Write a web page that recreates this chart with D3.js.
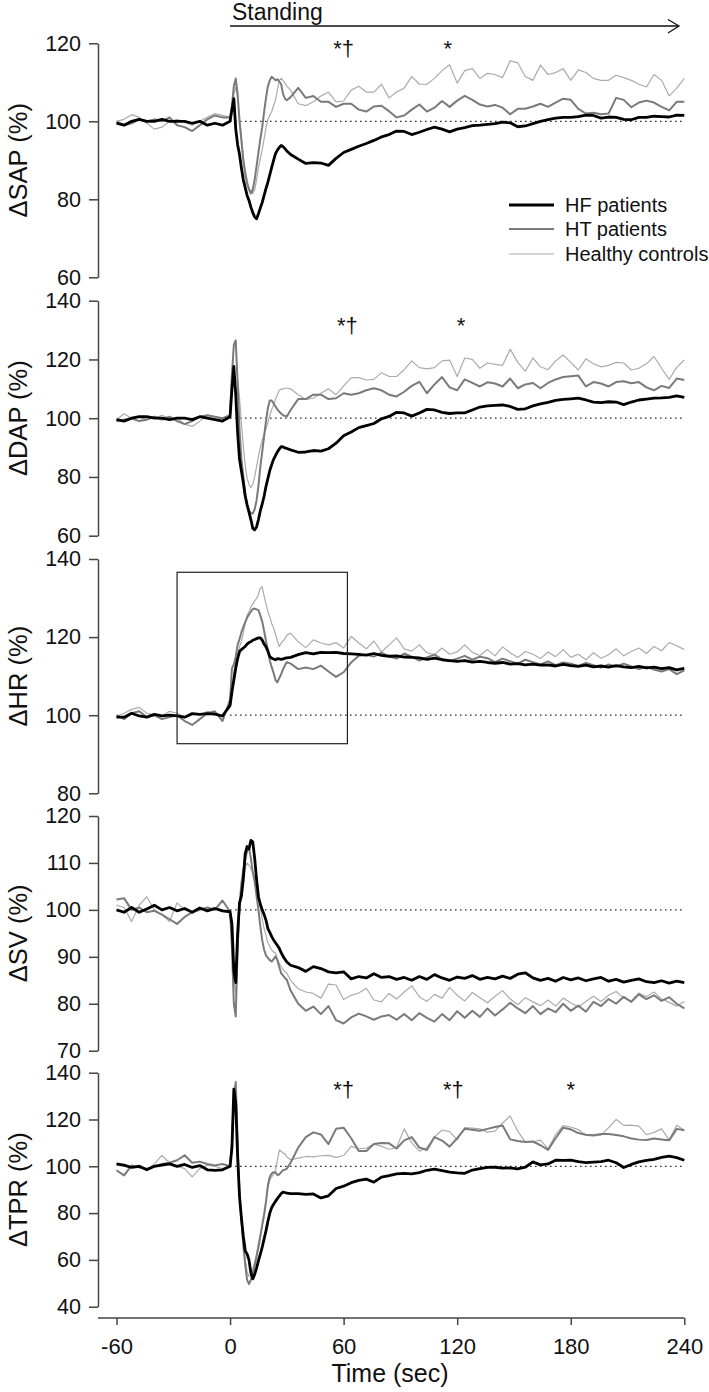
<!DOCTYPE html>
<html>
<head>
<meta charset="utf-8">
<script src="https://cdn.jsdelivr.net/npm/d3@7"></script>
<style>
  html, body { margin: 0; padding: 0; background: #fff; }
  svg text { font-family: "Liberation Sans", Arial, sans-serif; fill: #111; }
</style>
</head>
<body>
<script>
// ---------- DATA ----------
const time = [-60,-56,-52,-48,-44,-40,-36,-32,-28,-24,-20,-16,-12,-8,-4,
  0,1,2,3,4,5,6,7,8,9,10,11,12,13,14,15,16,17,18,19,20,21,22,23,24,25,26,27,28,29,30,
  32,36,40,44,48,52,56,60,64,68,72,76,80,84,88,92,96,100,104,108,112,116,120,124,128,
  132,136,140,144,148,152,156,160,164,168,172,176,180,184,188,192,196,200,204,208,212,216,220,224,228,232,236,240];

const seriesNames = ["HF patients", "HT patients", "Healthy controls"];
const xTicks = [-60, 0, 60, 120, 180, 240];

// Systolic arterial pressure
const sapHF = [99.5,99,100,100.5,100,100,100.5,100,100,100,99.5,100,99,99.5,99,
  100,103,105.8,98,94,91.5,88,85,83,81, 79.7,78,76.6,75.5,75,76.3,77.8,79.2,81,82.8, 84.4,86.3,88.2,90,91.7,92.6,93.3,93.8,93.5,93,92.4,
  91.5,90.3,89.2,89.4,89.3,88.7,90.5,92, 92.8,93.6,94.3,95.1,96,96.6,97.5,97.4,96.6, 97.2,97.9,98.5,98,97.3,98,98.4,98.9,
  99,99.2,99.4,99.8,99.6,98.6,98.8,99.4, 100,100.4,100.8,101,101,101.2,101.6,101.5, 100.8,101.1,101,100.5,100.4,101,101,101.3, 101.2,101.1,101.6,101.5];
const sapHT = [100,99,99.5,100.5,100,100.5,100,101,99,98.5,97.5,99,100.5,101.5,101,
  101,104,109,111,107,100,95,90,86.5,84, 82.5,81.5,82.5,85,88.5,92,95.5,98.5,102.5,106, 109,110.5,111.4,111,110.5,110.8,110.2,109.5,107,105.8,105.4,
  106.2,108.6,106,106.5,105,105,103.7,104.5, 104.5,103,102.5,103.8,104,102.6,101,101.5,103, 104.3,102.5,103.5,105.2,103.7,105.3,106.5,105.5,
  104.3,103.8,104.2,103.5,101.8,103.2,103.2,103.8, 104.5,103.7,104.8,105.8,105.5,103.2,102,102.2, 101.8,102,106,105.5,103.6,104.8,105.3,104.8, 103.7,102.8,105,105];
const sapHC = [100,100.5,101.7,101,99.5,98,98.5,100,100.5,99.8,99,100,101,102,101.5,
  101,103,107,108.8,106,101,96,91,87.5,85, 83,82,81.5,82.5,85,88,90.5,92.8,95.5,98.5, 100.5,101.5,102.5,104,105.4,108,110.5,111,110.5,109.8,109,
  108,104.5,104,105,106.5,107.5,105,105.2, 108,109,107.5,107.5,109.5,106,107.5,108.5,111.5, 109.5,109.5,111,113,114.5,109.8,113,113.5,
  111,112.3,112,111.2,115.5,115,111.5,110.5, 114.4,112,112.5,113.5,110.5,113.2,112.5,111, 110.5,110.5,111.8,111.2,110.5,109.5,108.8,112, 110.5,106.5,108.5,111];

// Diastolic arterial pressure
const dapHF = [99.5,99,100,100.5,100.5,100,100,99.5,100,100,99.5,100.5,100,99.5,99,
  100.5,110,117.6,108,95,86,82,78,73.5,70.5, 68,65.5,62.5,62,63,65.5,68.5,70.8,73.5,76.8, 79.5,82.2,84.2,86,87.3,88.5,89.5,90.3,90.2,89.9,89.7,
  89.2,88.4,88.5,89,88.8,89.6,91.5,94, 95.3,96.8,97.5,98.2,99.8,100.6,102,101.8,100.7, 101.8,103,102.8,102,101.6,101.8,101.8,102.8,
  103.8,104.2,104.4,104.5,104,103,103.2,104.2, 104.9,105.4,106.1,106.4,106.6,106.8,106.2,105.5, 105.3,105.6,105.5,104.6,105.5,106.2,106.5,106.8, 106.9,107.1,107.6,107.1];
const dapHT = [99,99.5,100,99,99.5,100.5,99.5,100.5,99,98,99,100.5,101,100.5,100,
  101,115,125,126.5,112,96,86,80.2,74.5,70.5, 68.5,67.7,67.5,69,72,77,83.5,88.5,94,99, 103.5,106,106,105,104,103,102.2,101.6,101,100.8,100.6,
  102.8,106.5,106.5,108,108,106.5,106.8,108.5, 108,108.5,109.5,110.2,109.5,108,107.4,109,111, 112.4,108.5,111.5,114,110.5,109.5,113.2,112,
  110.8,112.2,111.8,110.8,113.5,110.2,111.5,112, 110.2,112,113.2,114,114.3,114.5,110.8,112.3, 111.8,110.8,112.3,112.6,111.9,112.3,110.5,109.5, 111,110.3,113.5,113];
const dapHC = [99.5,101.5,100,99,100.5,100,101,100,100,98,97.2,99,101,100.5,99.5,
  101,110,114,113,113,107,98,90.4,84,79.5, 77.5,76.3,77.5,80,83.5,87,90,92.5,94.5,96.5, 98.5,101,103,104.5,106.5,108,109.5,109.8,110,110.2,110.2,
  110,108,106.4,106.8,108.5,110,108,111, 113.8,113.8,113,113.2,115.5,114.2,114.2,116.5,119.5, 117.2,116.8,117.2,119.5,119.8,114.2,120.5,120,
  117,118.8,118.3,118,123.5,119,116,120.5, 117.5,116.5,119.5,121.5,119,116.4,120.2,118.5, 117.5,118,119,118.8,116.4,117,118.5,121, 117,113.2,117.3,119.8];

// Heart rate
const hrHF = [99.5,99.5,100.5,99.8,99.5,100.2,99.8,100,99.8,99.5,100.4,100.2,100.4,100.3,99.8,
  102.5,106,109,112,114.5,116.3,116.8,117.2,117.6,118.2, 118.6,118.8,119.2,119.4,119.6,119.8,119.8,119.2,118.2,117.5, 116.4,115,114.6,114.4,114.2,114.5,114.4,114.3,114.4,114.6,114.7,
  114.8,115.5,116,115.7,116.1,116,116.1,115.8, 115.7,115.6,115.4,115.8,115.3,115.1,115.2,114.9,114.8, 114.7,114.3,114.6,114.2,114,113.8,114,113.6,
  113.8,113.5,113.3,113.5,113.1,113.2,112.9,113.1, 112.8,112.9,112.6,113,112.7,112.5,112.8,112.4, 112.6,112.3,112.7,112.4,112.2,112.5,112.1,112.3, 111.9,112.2,111.6,112];
const hrHT = [100,99,100.5,101,99.5,100,99,99.5,100,98.5,97.5,99,100.5,101,98.5,
  104,112,113,115,118,119.5,121.2,122.6,123.8,125, 125.8,126.5,127.2,127.3,127.1,126.9,125.5,124,121.5,119, 116.5,114,112.3,110.8,109,108.4,109.5,110.5,111.8,112.8,113.6,
  113.2,111.8,112.2,111.8,112.7,111.2,109.8,111, 113.5,115.2,115.5,115,116,115,114.5,115.8,115, 114,114.8,115.5,114.3,113.8,114.5,115.2,114.2,
  115,114.6,113.6,114.5,113.8,113.2,114.2,113.6, 113,113.8,112.8,113.5,113.2,112.6,113.4,112.8, 112.2,113,112.4,113.2,112.5,111.8,112.4,111.7, 111.2,111.8,110.5,111.5];
const hrHC = [99.8,100.5,101.5,102,100.5,100,99.8,101,100.5,99.5,100.5,100,101,100.5,100,
  102,106,111,114,115.5,117.5,119,121,123.5,125.5, 126.5,127.7,128.5,129.3,129.9,131,132.5,132.9,130.5,128.5, 126.5,125.1,123.5,122.3,120.8,119,117.6,118.5,119,119.6,120.5,
  121,118.8,117.3,119.3,118.5,118,118.6,117.2, 120.2,118.5,117,119,116.2,118,119.8,117,116.4, 118,116,115.5,117.2,115.6,116.2,118,116.1,
  115.3,116.8,115.2,117.5,116,114.8,116.3,115.6, 114.5,116.2,115,116.8,114.8,115.6,114.2,116, 114.6,115.5,117,115.2,116.3,117.2,115.8,117.6, 116.5,118.6,117.8,116.8];

// Stroke volume
const svHF = [100,99.5,100.5,99.5,100.2,101,100,100.5,99.8,100.3,99.5,100.4,99.8,100.3,99.8,
  99.6,97,87,84.5,95,101.5,103,106.5,112,113.5, 113,114.8,114.5,111,106.5,102.8,101.2,100,99,97.8, 96,95.2,94.3,93.6,93,92.4,91.8,90.9,90.1,89.5,88.9,
  88.2,87.7,86.9,87.9,87.5,86.8,86.6,86.8, 85.3,85.8,85.5,86.4,85.6,85.8,85.2,85.6,85, 85.8,85.2,86.2,85.5,85,85.7,85.4,86,
  85.2,85.6,85.3,85.9,85.4,86.3,86.6,85.5, 85,85.4,84.8,85.6,85.1,85.5,84.9,85.3, 85.6,84.8,85.2,84.6,85,85.3,84.7,84.5, 84.9,84.4,84.8,84.5];
const svHT = [102.2,102.5,100,100.5,99.5,99.8,99,98,97,98.5,99.5,100,100.5,100,102,
  99.6,92,80,77.3,92,101,105.7,108.5,110.8,112.5, 113.2,111,108,106,103,100,96.5,93.5,91.5,90.3, 89.8,89.3,89,89.5,90.1,89.3,87.8,86.5,86,85.5,85.1,
  82.8,80,78.5,79.4,77.8,79.5,76.5,75.8, 77.1,77.9,77.3,76.6,77.3,77.6,76.6,77.8,76.5, 78,77,76.2,77.8,76.5,78.4,77,78.5,
  77.2,79,77.5,78.8,80.2,79,78,79.5, 77.8,79,78.2,80,78.5,79.6,78.3,80.4, 79.5,81,80,81.5,80.4,82,81,81.8, 80.6,81.4,80,79];
const svHC = [101,100.5,97.5,101,102.8,100,99,97.5,101.5,100,99.5,100.5,100,100.5,100,
  99.5,95,85,82,90,99,103.5,106.5,109,110, 109.5,108.8,108,107,106.4,103.5,100.5,98,96,94.5, 93,92.2,91.5,91,90.8,89.5,88.6,87.9,87.3,86.8,86.5,
  85,83.2,82.5,82.2,81.2,84.2,84,80.9, 81.8,82.3,83.3,80.8,80.4,82.2,81,82.5,83.8, 81.5,80.5,82,81.2,83.5,81.8,80.6,82.4,
  81.3,80.2,81.6,82.8,81,79.8,81.3,80.4, 79.6,80.8,79.5,81.2,80.2,79.3,80.5,81.6, 80.5,81.8,82.6,81.2,80.6,82.3,81.5,82.5, 81,80.3,79.5,80.5];

// Total peripheral resistance
const tprHF = [101,100.5,99.5,100,98.5,100,100.5,101,100,100.8,99.5,100.3,98.5,98.3,98.5,
  100,108,133,127,104,87,78,70,64,62.5, 60,54.5,51.9,53.8,56.5,59.7,62.5,65.5,69,72.5, 76.5,80,82.4,83.8,85,86.2,87.3,88.3,89,88.8,88.5,
  88.3,88.3,88,88.2,86.5,87.4,90.5,91.5, 93,94,94.5,93.2,95.4,96,96.8,97,96.8, 97.3,98.3,98.8,98.2,97.5,97.2,97,98.4,
  99,99.5,99.6,99.2,99.3,98.9,99.6,101.9, 100.6,101,102.6,102.5,102.6,102,101.6,101.8, 102,102.6,101.5,99.5,100.8,101.9,102.5,103, 103.8,104.3,103.7,102.6];
const tprHT = [98.3,96.1,100.4,99.5,99,100,101,101.5,102.6,104.7,101.5,102,101,100.4,101,
  100,110,130,136,110,88,77,66,58,51.5, 49.7,51.5,54.5,57.5,61.5,65.4,70,75,79.5,85, 92,95.5,96.9,97.5,97.4,96.3,96.5,97.5,98.3,98.6,99,
  101.5,108,112.5,114.5,113.6,109.5,116,116.5, 112,106.5,106.5,109.5,110,109.8,107.6,111.1,112.5, 108,107,112.5,111,108.4,112,116,115.6,
  115.2,116,116.8,117.4,111.5,110.8,110.4,110.6, 109,107,112,116.5,115.8,114.2,113.5,113.3, 113.8,113.8,113.4,112.8,111.9,111.4,111.2,111.9, 111.5,111.1,116,115.4];
const tprHC = [100.5,100,99.5,100.5,98.5,101,104.7,101.5,100,99,95.5,99,100.5,100,99,
  100,108,126,133,108,88,77,68,60,55, 53,53.5,56,59,62.5,67,71,74.5,78.5,85, 91,94,95.5,96.5,98,102.5,106.9,106.5,105.6,105.4,104,
  102.8,103.5,104.2,104,104.5,104.7,103.8,104.6, 108.5,107.5,107.8,109.5,108.5,107.3,108,116,110, 106.5,108,112.5,115.5,114.8,111.3,116.5,116.3,
  116,114.6,115,118.5,121.5,115,110.3,110.5, 111.2,107.5,113.5,117.4,116.8,115.7,113.2,113, 113.3,116.5,120,117.5,117.6,117.2,113.5,114.5, 116,111.3,117.5,115.4];

const panelLabels = ["\u0394SAP (%)", "\u0394DAP (%)", "\u0394HR (%)", "\u0394SV (%)", "\u0394TPR (%)"];
const panelDomains = [[60,120],[60,140],[80,140],[70,120],[40,140]];
const panelTicks = [[60,80,100,120],[60,80,100,120,140],[80,100,120,140],[70,80,90,100,110,120],[40,60,80,100,120,140]];
const panelSeries = [[sapHF,sapHT,sapHC],[dapHF,dapHT,dapHC],[hrHF,hrHT,hrHC],[svHF,svHT,svHC],[tprHF,tprHT,tprHC]];

// significance marks: panel index, time, text
const sigPanel = [0, 0, 1, 1, 4, 4, 4];
const sigTime  = [60, 115, 62, 122, 60, 118, 180];
const sigText  = ["*\u2020", "*", "*\u2020", "*", "*\u2020", "*\u2020", "*"];

// inset box on HR panel (time range, value range)
const boxTime = [-28, 62];
const boxValue = [92.7, 136.6];

// ---------- LAYOUT ----------
const W = 709, H = 1392;
const tops = [43.3, 300.7, 559, 816, 1072.7];
const bots = [277.3, 535.7, 793.3, 1050.7, 1306.7];
const axisXpos = 98, xAxisY = 1318;
const colors = ["#000000", "#7a7a7a", "#ababab"];
const widths = [2.8, 2.0, 1.2];
const FONT = "Liberation Sans, Arial, sans-serif";

const svg = d3.select("body").append("svg").attr("width", W).attr("height", H);
const x = d3.scaleLinear().domain([-60, 240]).range([116.5, 684.3]);

panelLabels.forEach((lab, p) => {
  const y = d3.scaleLinear().domain(panelDomains[p]).range([bots[p], tops[p]]);
  const g = svg.append("g");

  // y axis
  const ax = g.append("g").attr("transform", `translate(${axisXpos},0)`)
    .call(d3.axisLeft(y).tickValues(panelTicks[p]).tickSize(9).tickSizeOuter(0).tickPadding(8).tickFormat(d => String(d)));
  ax.select(".domain").attr("stroke", "#444").attr("stroke-width", 1.5);
  ax.selectAll(".tick line").attr("stroke", "#444").attr("stroke-width", 1.5);
  ax.selectAll(".tick text").attr("font-size", 21.5).attr("font-family", FONT).attr("fill", "#111");

  // y label
  g.append("text")
    .attr("transform", `translate(27,${(tops[p] + bots[p]) / 2}) rotate(-90)`)
    .attr("text-anchor", "middle").attr("font-size", 25.5).text(lab);

  // reference dotted line at 100
  g.append("line").attr("x1", x(0)).attr("x2", x(240)).attr("y1", y(100)).attr("y2", y(100))
    .attr("stroke", "#222").attr("stroke-width", 1.2).attr("stroke-dasharray", "1.5,3.5");

  // series (draw light first)
  const line = d3.line().x((d, i) => x(time[i])).y(d => y(d));
  [2, 1, 0].forEach(s => {
    g.append("path").datum(panelSeries[p][s]).attr("d", line)
      .attr("fill", "none").attr("stroke", colors[s]).attr("stroke-width", widths[s])
      .attr("stroke-linejoin", "round");
  });

  // significance marks
  sigPanel.forEach((sp, k) => {
    if (sp !== p) return;
    g.append("text").attr("x", x(sigTime[k])).attr("y", tops[p] + (p === 1 ? 32 : (p === 4 ? 24 : 13)))
      .attr("text-anchor", "middle").attr("font-size", 22).text(sigText[k]);
  });

  if (p === 2) {
    g.append("rect").attr("x", x(boxTime[0])).attr("y", y(boxValue[1]))
      .attr("width", x(boxTime[1]) - x(boxTime[0])).attr("height", y(boxValue[0]) - y(boxValue[1]))
      .attr("fill", "none").attr("stroke", "#222").attr("stroke-width", 1.2);
  }
});

// x axis
const xa = svg.append("g").attr("transform", `translate(0,${xAxisY})`)
  .call(d3.axisBottom(x).tickValues(xTicks).tickSize(7).tickSizeOuter(0).tickPadding(13).tickFormat(d => String(d)));
xa.select(".domain").remove();
xa.append("line").attr("x1", axisXpos).attr("x2", x(240)).attr("y1", 0).attr("y2", 0)
  .attr("stroke", "#444").attr("stroke-width", 1.5);
xa.selectAll(".tick line").attr("stroke", "#444").attr("stroke-width", 1.5);
xa.selectAll(".tick text").attr("font-size", 22).attr("font-family", FONT).attr("fill", "#111");

svg.append("text").attr("x", 390).attr("y", 1382).attr("text-anchor", "middle")
  .attr("font-size", 25).text("Time (sec)");

// Standing arrow
svg.append("text").attr("x", 232).attr("y", 20).attr("font-size", 23).text("Standing");
svg.append("line").attr("x1", x(0)).attr("x2", 679).attr("y1", 26).attr("y2", 26)
  .attr("stroke", "#111").attr("stroke-width", 1.3);
svg.append("polyline").attr("points", "668,19.5 679,26 668,33")
  .attr("fill", "none").attr("stroke", "#111").attr("stroke-width", 1.3);

// legend
const legY = [205, 229, 254];
seriesNames.forEach((n, i) => {
  svg.append("line").attr("x1", 509).attr("x2", 554).attr("y1", legY[i]).attr("y2", legY[i])
    .attr("stroke", colors[i]).attr("stroke-width", widths[i]);
  svg.append("text").attr("x", 565).attr("y", legY[i] + 7).attr("font-size", 20).text(n);
});
</script>
</body>
</html>
